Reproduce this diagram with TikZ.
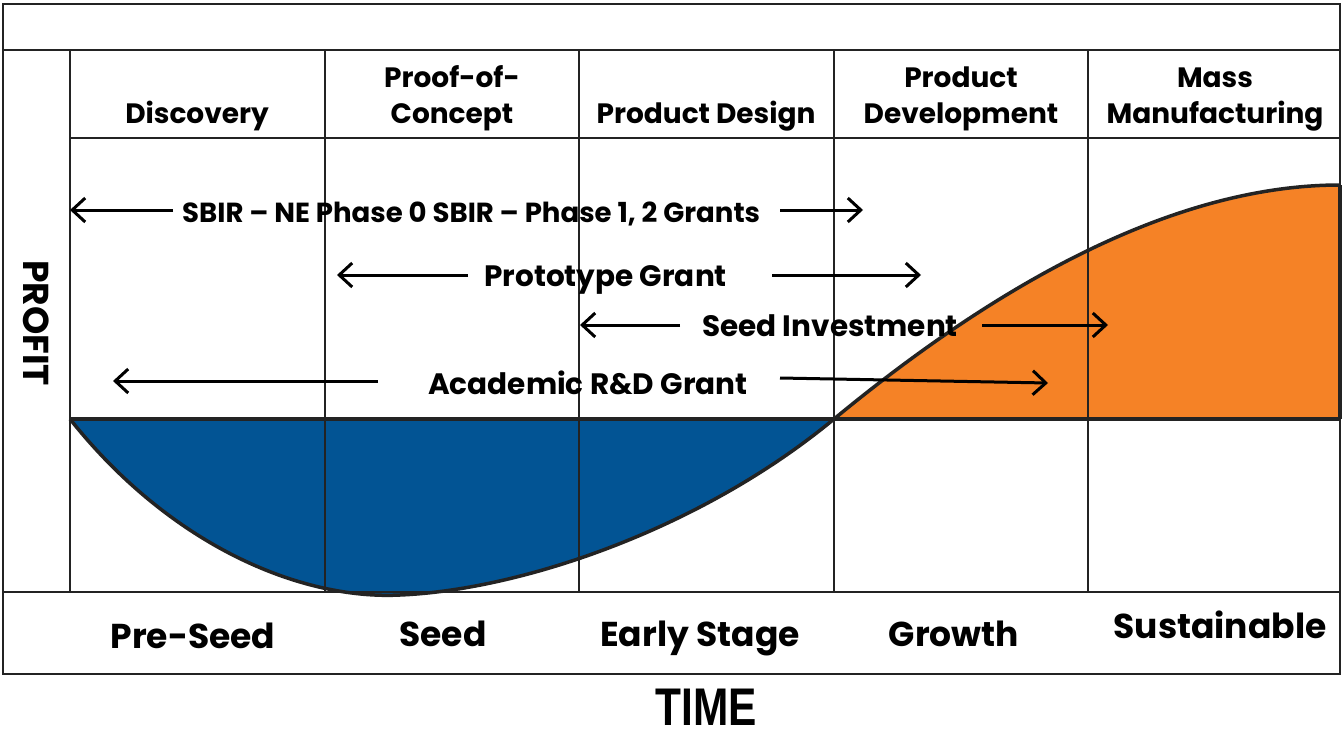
\documentclass[tikz,border=0pt]{standalone}
\usepackage{fontspec}
\setmainfont{Poppins}
\newfontfamily\timefont{Liberation Sans}
\usetikzlibrary{arrows.meta}
\definecolor{blueFill}{RGB}{2,84,148}
\definecolor{orangeFill}{RGB}{245,130,38}
\definecolor{gridC}{RGB}{35,35,35}
\tikzset{
  gridline/.style={draw=gridC, line width=1.6pt},
  heavyline/.style={draw=gridC, line width=3.5pt},
  curveline/.style={draw=gridC, line width=3.5pt, line join=round},
  span/.style={draw=black, line width=3pt, -{Straight Barb[length=13pt,width=24pt]}},
  headlbl/.style={font=\bfseries\fontsize{28}{32}\selectfont, anchor=base, inner sep=0pt},
  spanlbl/.style={font=\bfseries\fontsize{29.5}{32}\selectfont, anchor=base west, inner sep=0pt},
  spanlblsmall/.style={font=\bfseries\fontsize{27.6}{32}\selectfont, anchor=base west, inner sep=0pt},
  stagelbl/.style={font=\bfseries\fontsize{34.5}{40}\selectfont, anchor=base, inner sep=0pt},
  axislbl/.style={font=\bfseries\fontsize{36}{40}\selectfont, inner sep=0pt},
  timelbl/.style={font=\timefont\bfseries\fontsize{53}{60}\selectfont, inner sep=0pt, xscale=0.8}
}
\begin{document}
\begin{tikzpicture}[x=1pt,y=-1pt]
\useasboundingbox (0,0) rectangle (1342,734);
\fill[white] (0,0) rectangle (1342,734);

% curve key points
\coordinate (c0) at (70,419);
\coordinate (cmin) at (400,595);
\coordinate (cmid) at (834,419);
\coordinate (cend) at (1340,185);
\coordinate (cbr) at (1340,419);

% fills
\fill[blueFill] (c0) .. controls (170,545) and (300,600) .. (cmin)
  .. controls (520,590) and (700,530) .. (cmid) -- cycle;
\fill[orangeFill] (cmid) .. controls (960,315) and (1150,185) .. (cend) -- (cbr) -- cycle;

% grid
\draw[gridline] (3,4) rectangle (1340,674);
\draw[gridline] (3,50) -- (1340,50);
\draw[gridline] (3,592) -- (1340,592);
\draw[gridline] (70,138) -- (1340,138);
\foreach \x in {70,325,579,834,1088}{\draw[gridline] (\x,50) -- (\x,592);}

% baseline and curve
\draw[heavyline] (c0) -- (cbr);
\draw[heavyline] (cend) -- (cbr);
\draw[curveline] (c0) .. controls (170,545) and (300,600) .. (cmin)
  .. controls (520,590) and (700,530) .. (cmid)
  .. controls (960,315) and (1150,185) .. (cend);

% header labels
\node[headlbl] (h1) at (197,123) {Discovery};
\node[headlbl] (h2a) at (452,87) {Proof-of-};
\node[headlbl] (h2b) at (452,123) {Concept};
\node[headlbl] (h3) at (706,123) {Product Design};
\node[headlbl] (h4a) at (961,87) {Product};
\node[headlbl] (h4b) at (961,123) {Development};
\node[headlbl] (h5a) at (1215,87) {Mass};
\node[headlbl] (h5b) at (1215,123) {Manufacturing};

% span rows
\coordinate (a1l) at (173,210); \coordinate (a1lt) at (70,210);
\coordinate (a1r) at (780,210); \coordinate (a1rt) at (863,210);
\coordinate (a2l) at (468,275); \coordinate (a2lt) at (337,275);
\coordinate (a2r) at (772,275); \coordinate (a2rt) at (921,275);
\coordinate (a3l) at (680,325); \coordinate (a3lt) at (580,325);
\coordinate (a3r) at (982,325); \coordinate (a3rt) at (1108,325);
\coordinate (a4l) at (378,381); \coordinate (a4lt) at (113,381);
\coordinate (a4r) at (780,378); \coordinate (a4rt) at (1048,383);

\draw[span] (a1l) -- (a1lt);
\draw[span] (a1r) -- (a1rt);
\draw[span] (a2l) -- (a2lt);
\draw[span] (a2r) -- (a2rt);
\draw[span] (a3l) -- (a3lt);
\draw[span] (a3r) -- (a3rt);
\draw[span] (a4l) -- (a4lt);
\draw[span] (a4r) -- (a4rt);

\node[spanlblsmall] (s1) at (182,222) {SBIR – NE Phase 0 SBIR – Phase 1, 2 Grants};
\node[spanlbl] (s2) at (484,286) {Prototype Grant};
\node[spanlbl] (s3) at (702,336) {Seed Investment};
\node[spanlbl] (s4) at (428,394) {Academic R\&D Grant};

% stage labels
\node[stagelbl] (b1) at (193,648) {Pre-Seed};
\node[stagelbl] (b2) at (443,646) {Seed};
\node[stagelbl] (b3) at (700,646) {Early Stage};
\node[stagelbl] (b4) at (954,646) {Growth};
\node[stagelbl] (b5) at (1220,638) {Sustainable};

% axis labels
\node[axislbl, rotate=-90] (profit) at (36,323) {PROFIT};
\node[timelbl] (time) at (706,707) {TIME};
\end{tikzpicture}
\end{document}
